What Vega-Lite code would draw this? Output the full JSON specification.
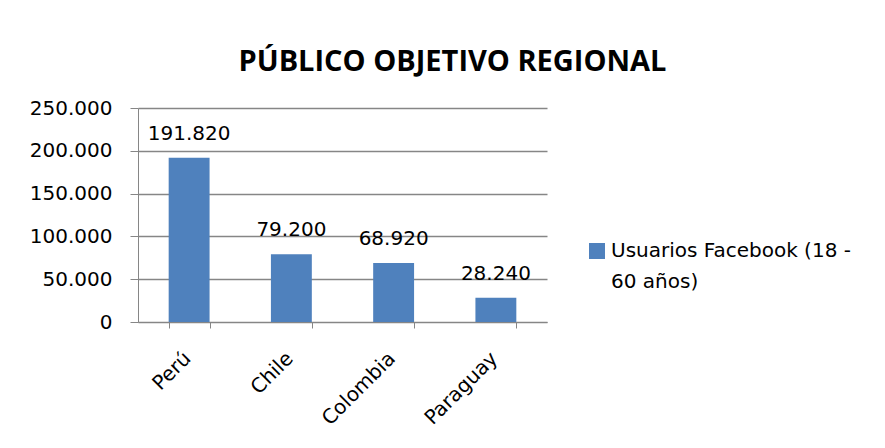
{
  "$schema": "https://vega.github.io/schema/vega-lite/v6.json",
  "width": 409,
  "height": 214,
  "autosize": {"type": "none"},
  "padding": {"left": 138, "top": 108, "right": 338, "bottom": 126},
  "background": "white",
  "config": {
    "locale": {"number": {"decimal": ",", "thousands": ".", "grouping": [3], "currency": ["", ""]}},
    "view": {"stroke": null},
    "font": "DejaVu Sans",
    "style": {"guide-label": {"lineHeight": 31}}
  },
  "title": {
    "text": "PÚBLICO OBJETIVO REGIONAL",
    "font": "Open Sans",
    "fontSize": 29,
    "fontWeight": "bold",
    "color": "black",
    "anchor": "middle",
    "baseline": "alphabetic",
    "offset": -2,
    "dx": 110
  },
  "data": {
    "values": [
      {"pais": "Perú", "usuarios": 191820, "serie": "Usuarios Facebook (18 - 60 años)"},
      {"pais": "Chile", "usuarios": 79200, "serie": "Usuarios Facebook (18 - 60 años)"},
      {"pais": "Colombia", "usuarios": 68920, "serie": "Usuarios Facebook (18 - 60 años)"},
      {"pais": "Paraguay", "usuarios": 28240, "serie": "Usuarios Facebook (18 - 60 años)"}
    ]
  },
  "encoding": {
    "x": {
      "field": "pais",
      "type": "nominal",
      "sort": null,
      "scale": {"paddingInner": 0.6, "paddingOuter": 0.3},
      "axis": {
        "title": null,
        "labelAngle": -45,
        "labelFont": "DejaVu Sans",
        "labelFontSize": 20,
        "labelColor": "black",
        "labelPadding": 20,
        "labelOffset": -9,
        "tickBand": "extent",
        "tickSize": 6,
        "tickColor": "#868686",
        "domainColor": "#868686",
        "grid": false
      }
    },
    "y": {
      "field": "usuarios",
      "type": "quantitative",
      "scale": {"domain": [0, 250000], "nice": false},
      "axis": {
        "title": null,
        "values": [0, 50000, 100000, 150000, 200000, 250000],
        "format": ",d",
        "labelFont": "DejaVu Sans",
        "labelFontSize": 20,
        "labelColor": "black",
        "labelPadding": 18,
        "tickSize": 8,
        "tickColor": "#868686",
        "domainColor": "#868686",
        "gridColor": "#868686",
        "gridWidth": 1.5
      }
    }
  },
  "layer": [
    {
      "mark": {"type": "bar", "color": "#4F81BD"},
      "encoding": {
        "color": {
          "field": "serie",
          "type": "nominal",
          "scale": {"range": ["#4F81BD"]},
          "legend": {
            "title": null,
            "orient": "none",
            "legendX": 449,
            "legendY": 133,
            "padding": 0,
            "symbolType": "square",
            "symbolSize": 256,
            "symbolStrokeWidth": 0,
            "labelFont": "DejaVu Sans",
            "labelFontSize": 20,
            "labelColor": "black",
            "labelLimit": 400,
            "labelExpr": "['Usuarios Facebook (18 -', '60 años)']"
          }
        }
      }
    },
    {
      "mark": {"type": "text", "baseline": "alphabetic", "dy": -18, "font": "DejaVu Sans", "fontSize": 20, "color": "black"},
      "encoding": {
        "text": {"field": "usuarios", "type": "quantitative", "format": ",d"}
      }
    }
  ]
}
